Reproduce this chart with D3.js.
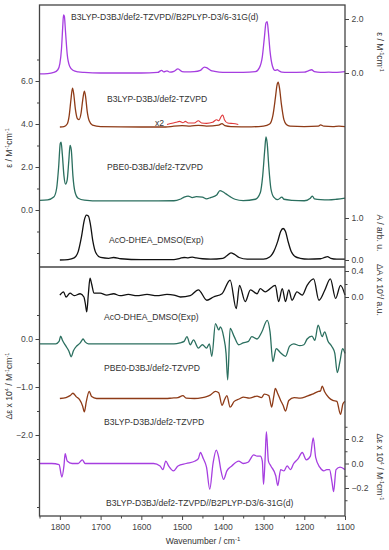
<html>
<head>
<style>
body{margin:0;background:#fff;}
svg{font-family:Arial,"Liberation Sans",sans-serif;}
.lbl{font-size:8.6px;fill:#333;}
.tick text{font-size:8.6px;fill:#444;}
.tick line{stroke:#444;}
</style>
<script src="https://d3js.org/d3.v7.min.js"></script>
</head>
<body>
<svg id="chart" width="389" height="550"></svg>
<script>
// top panel: absorption spectra
const wnTopPurple = [1850,1830,1815,1805,1800,1796,1793,1791,1789,1786,1782,1776,1768,1755,1740,1700,1600,1560,1550,1545,1537,1530,1520,1510,1500,1490,1470,1455,1445,1440,1430,1420,1400,1350,1320,1310,1303,1298,1294,1291,1288,1284,1278,1272,1266,1262,1255,1240,1200,1190,1182,1175,1160,1140,1120,1100];
const epsTopPurple = [-0.03,-0.02,0.02,0.12,0.35,0.9,1.7,2.15,2.1,1.5,0.7,0.25,0.1,0.04,0.02,0,0,0.02,0.1,0.04,0.08,0.03,0.06,0.15,0.05,0.04,0.05,0.1,0.22,0.2,0.1,0.06,0.02,0.02,0.05,0.2,0.6,1.3,1.85,1.9,1.5,0.8,0.25,0.1,0.12,0.08,0.03,0.02,0.03,0.08,0.12,0.05,0.02,0.03,0.02,0.05];

const wnTopBrown = [1800,1790,1782,1777,1773,1769,1766,1762,1757,1753,1748,1744,1740,1737,1733,1728,1720,1700,1600,1540,1520,1500,1480,1460,1440,1410,1402,1395,1380,1330,1300,1285,1277,1271,1267,1264,1261,1256,1250,1244,1235,1200,1165,1160,1152,1130,1115,1100];
const epsTopBrown = [3.86,3.88,4.0,4.4,5.1,5.67,5.4,4.7,4.25,4.2,4.5,5.1,5.53,5.3,4.6,4.15,3.95,3.88,3.86,3.86,3.9,3.92,3.9,3.94,3.9,3.95,4.02,3.92,3.88,3.87,3.9,4.0,4.4,5.2,5.8,5.95,5.7,4.9,4.2,3.98,3.9,3.88,3.9,3.96,3.9,3.88,3.9,3.88];

const wnTopX2 = [1537,1528,1515,1506,1498,1492,1485,1470,1460,1452,1440,1425,1415,1410,1404,1400,1396,1388,1375,1362];
const epsTopX2 = [3.98,4.02,4.08,4.12,4.06,4.12,4.05,4.05,4.15,4.05,4.03,4.08,4.2,4.15,4.35,4.42,4.2,4.05,4.02,3.98];

const wnTopTeal = [1850,1830,1815,1808,1803,1799,1797,1794,1790,1786,1782,1778,1775,1772,1768,1763,1755,1740,1700,1600,1520,1505,1495,1485,1475,1465,1450,1440,1430,1415,1407,1400,1392,1382,1370,1350,1320,1308,1302,1297,1294,1291,1287,1282,1275,1265,1255,1250,1230,1200,1185,1180,1175,1160,1140,1120,1100];
const epsTopTeal = [0.45,0.47,0.6,1.0,2.0,3.1,3.16,2.6,1.6,1.2,1.4,2.3,3.0,2.8,1.6,0.85,0.55,0.46,0.42,0.42,0.43,0.5,0.6,0.65,0.58,0.62,0.6,0.52,0.58,0.7,0.9,0.85,0.75,0.62,0.5,0.44,0.5,0.8,1.6,2.8,3.4,3.1,2.0,1.0,0.6,0.48,0.6,0.5,0.45,0.43,0.55,0.65,0.52,0.48,0.47,0.5,0.55];

const wnTopExp = [1800,1780,1765,1755,1747,1740,1735,1730,1725,1719,1712,1700,1680,1668,1650,1600,1520,1505,1495,1485,1475,1465,1450,1430,1400,1390,1380,1372,1360,1340,1300,1285,1275,1265,1258,1252,1246,1240,1232,1222,1210,1190,1160,1150,1143,1135,1120,1100];
const absTopExp = [0,0.01,0.05,0.2,0.55,0.95,1.07,1.05,0.85,0.45,0.18,0.06,0.04,0.06,0.03,0.01,0.01,0.04,0.06,0.05,0.07,0.05,0.03,0.02,0.04,0.1,0.17,0.14,0.06,0.02,0.02,0.07,0.2,0.45,0.68,0.75,0.68,0.45,0.2,0.08,0.04,0.02,0.03,0.06,0.08,0.04,0.02,0.02];

// bottom panel: difference spectra
const wnBotExp = [1800,1791,1785,1775,1765,1750,1741,1737,1734,1730,1726,1722,1716,1701,1685,1668,1652,1632,1611,1586,1562,1537,1520,1504,1480,1460,1439,1423,1402,1382,1367,1359,1345,1332,1316,1308,1296,1271,1263,1254,1246,1238,1230,1218,1205,1193,1177,1164,1150,1136,1123,1111,1100];
const dABotExp = [0.03,0.08,0,0.06,0.02,0.05,0,-0.12,-0.23,0.05,0.29,0.2,0.06,0.06,0.03,0.05,0.02,0.04,0.02,0.04,0.02,0.04,0.03,0,0.02,0.11,-0.05,0,0.05,0.26,-0.18,0.18,-0.07,0.11,0.05,0.13,0.08,0.18,-0.07,0.13,-0.07,0.11,-0.05,0.08,0.03,0.18,0.28,-0.05,0.1,0.28,-0.02,0.18,0.03];

const wnBotTeal = [1850,1810,1802,1798,1794,1785,1778,1772,1767,1758,1750,1746,1743,1738,1730,1700,1600,1540,1520,1505,1495,1488,1480,1472,1460,1450,1440,1433,1427,1418,1410,1406,1398,1392,1388,1382,1372,1361,1350,1337,1329,1316,1304,1291,1284,1277,1269,1259,1246,1236,1226,1211,1201,1193,1181,1174,1166,1156,1150,1142,1132,1125,1119,1112,1106,1100];
const deBotTeal = [-0.1,-0.1,-0.05,0.06,-0.02,-0.15,-0.25,-0.37,-0.25,-0.14,-0.08,-0.03,0,-0.06,-0.1,-0.1,-0.1,-0.1,-0.1,-0.08,-0.05,0.05,-0.12,-0.02,-0.19,-0.12,-0.19,-0.1,-0.36,0.32,0.19,0.25,0.05,-0.3,-0.85,0.22,0.05,-0.12,-0.08,-0.05,0.05,0,0.15,0.39,0.15,-0.47,-0.2,-0.28,-0.36,-0.15,-0.1,-0.14,-0.12,0,0.06,-0.03,0.29,0.05,0.15,-0.04,-0.16,-0.3,-0.7,-0.45,-0.2,-0.3];

const wnBotBrown = [1800,1785,1775,1768,1760,1752,1744,1740,1735,1728,1722,1710,1600,1540,1525,1510,1498,1490,1470,1450,1440,1431,1418,1410,1402,1395,1390,1382,1372,1360,1349,1335,1316,1305,1298,1287,1280,1275,1271,1266,1258,1252,1246,1238,1225,1210,1193,1180,1168,1160,1156,1150,1140,1130,1120,1111,1105,1100];
const deBotBrown = [-1.24,-1.22,-1.18,-1.13,-1.2,-1.26,-1.4,-1.52,-1.3,-1.09,-1.2,-1.24,-1.24,-1.24,-1.23,-1.22,-1.18,-1.23,-1.24,-1.22,-1.2,-1.17,-1.09,-1.12,-1.38,-1.25,-1.18,-1.42,-1.3,-1.25,-1.21,-1.23,-1.19,-1.22,-1.15,-1.18,-1.42,-1.2,-1.03,-1.12,-1.28,-1.38,-1.5,-1.28,-1.22,-1.23,-1.19,-1.15,-1.1,-1.08,-0.98,-1.1,-1.22,-1.28,-1.3,-1.57,-1.35,-1.3];

const wnBotPurple = [1850,1820,1802,1795,1790,1787,1782,1770,1755,1745,1738,1720,1600,1570,1554,1547,1540,1533,1521,1510,1490,1468,1460,1455,1448,1440,1432,1424,1416,1410,1405,1398,1390,1378,1361,1350,1338,1324,1316,1308,1303,1300,1296,1293,1288,1282,1270,1265,1258,1250,1242,1234,1226,1215,1205,1195,1185,1178,1172,1162,1152,1145,1138,1132,1128,1122,1112,1100];
const deBotPurple = [0,0,-0.01,-0.11,-0.02,0.08,0.02,0,0,0.03,0,0,0,0,-0.02,-0.05,0.02,-0.02,-0.06,-0.02,0,0.02,0.04,0.09,0.04,-0.03,-0.21,0,0.11,0.05,-0.05,-0.13,-0.06,-0.02,0.02,0,0.01,0.07,0.06,0.06,0.02,-0.17,0.05,0.26,0.02,-0.02,-0.1,-0.18,-0.05,-0.06,-0.02,-0.05,0,0.04,0.09,0.03,0.06,0.21,0.05,-0.03,-0.06,-0.05,-0.05,-0.15,-0.23,-0.05,-0.03,-0.05];

const xTicks = [1800,1700,1600,1500,1400,1300,1200,1100];

const svg = d3.select("#chart");
const pLeft = 39.5, pRight = 345, pTop = 5, pMid = 267, pBottom = 516;

const x = d3.scaleLinear().domain([1850,1100]).range([pLeft,pRight]);
// top panel scales
const yEps = d3.scaleLinear().domain([0,6]).range([210,81]);
const yEpsR = d3.scaleLinear().domain([0,2]).range([73,19]);
const yAbs = d3.scaleLinear().domain([0,1]).range([260,218]);
// bottom panel scales
const yDe = d3.scaleLinear().domain([0,-2]).range([339,435]);
const yDA = d3.scaleLinear().domain([0,0.4]).range([297,271]);
const yDeR = d3.scaleLinear().domain([-0.2,0.2]).range([488,439]);

const fmt = d3.format(".1f");

function trace(wn, vals, y, color, w) {
  const pts = wn.map((d,i) => [d, vals[i]]);
  svg.append("path")
    .datum(pts)
    .attr("fill","none")
    .attr("stroke",color)
    .attr("stroke-width",w || 1.3)
    .attr("stroke-linejoin","round")
    .attr("d", d3.line().x(d => x(d[0])).y(d => y(d[1])).curve(d3.curveMonotoneX));
}

trace(wnTopPurple, epsTopPurple, yEpsR, "#a63ee0");
trace(wnTopBrown, epsTopBrown, yEps, "#8e3b17");
trace(wnTopX2, epsTopX2, yEps, "#e0383a", 1.1);
trace(wnTopTeal, epsTopTeal, yEps, "#2b6f5f");
trace(wnTopExp, absTopExp, yAbs, "#111");

trace(wnBotExp, dABotExp, yDA, "#111");
trace(wnBotTeal, deBotTeal, yDe, "#2b6f5f");
trace(wnBotBrown, deBotBrown, yDe, "#8e3b17");
trace(wnBotPurple, deBotPurple, yDeR, "#a63ee0");

// axes
function axis(gen, tx, ty, vals, size, labels) {
  const g = svg.append("g").attr("transform", "translate(" + tx + "," + ty + ")")
    .call(gen.tickValues(vals).tickSize(size).tickPadding(2.5).tickFormat(labels ? fmt : ""));
  g.select(".domain").remove();
  return g;
}
axis(d3.axisLeft(yEps), pLeft, 0, [0,2,4,6], 4, true);
axis(d3.axisLeft(yEps), pLeft, 0, [-2,-1,1,3,5,7], 2.5, false);
axis(d3.axisLeft(yDe), pLeft, 0, [0,-1,-2], 4, true);
axis(d3.axisLeft(yDe), pLeft, 0, [0.5,-0.5,-1.5,-2.5,-3.5], 2.5, false);

axis(d3.axisRight(yEpsR), pRight, 0, [0,2], 4, true);
axis(d3.axisRight(yEpsR), pRight, 0, [1], 2.5, false);
axis(d3.axisRight(yAbs), pRight, 0, [0,1], 4, true);
axis(d3.axisRight(yAbs), pRight, 0, [0.5], 2.5, false);
axis(d3.axisRight(yDA), pRight, 0, [0,0.4], 4, true);
axis(d3.axisRight(yDA), pRight, 0, [0.2,-0.4], 2.5, false);
axis(d3.axisRight(yDeR), pRight, 0, [-0.2,0,0.2], 4, true);
axis(d3.axisRight(yDeR), pRight, 0, [-0.3,-0.1,0.1,0.3], 2.5, false);

svg.append("g").attr("transform", "translate(0," + pBottom + ")")
  .call(d3.axisBottom(x).tickValues(xTicks).tickSize(4).tickPadding(4).tickFormat(d3.format("d")))
  .select(".domain").remove();
axis(d3.axisBottom(x), 0, pBottom, [1850,1750,1650,1550,1450,1350,1250,1150], 2.5, false);

// frame
svg.append("rect").attr("x",pLeft).attr("y",pTop).attr("width",pRight-pLeft).attr("height",pBottom-pTop)
  .attr("fill","none").attr("stroke","#444").attr("stroke-width",1.3);
svg.append("line").attr("x1",pLeft).attr("x2",pRight).attr("y1",pMid).attr("y2",pMid)
  .attr("stroke","#444").attr("stroke-width",1.3);

// trace labels
const labels = [
  ["B3LYP-D3BJ/def2-TZVPD//B2PLYP-D3/6-31G(d)", 71, 20],
  ["B3LYP-D3BJ/def2-TZVPD", 107, 102],
  ["PBE0-D3BJ/def2-TZVPD", 107, 170],
  ["AcO-DHEA_DMSO(Exp)", 109, 243],
  ["AcO-DHEA_DMSO(Exp)", 104, 320],
  ["PBE0-D3BJ/def2-TZVPD", 104, 371],
  ["B3LYP-D3BJ/def2-TZVPD", 104, 425],
  ["B3LYP-D3BJ/def2-TZVPD//B2PLYP-D3/6-31G(d)", 106, 506]
];
labels.forEach(l => svg.append("text").attr("class","lbl").attr("x",l[1]).attr("y",l[2]).text(l[0]));
svg.append("text").attr("class","lbl").attr("x",155).attr("y",126).attr("font-size","8px").text("x2");

// axis titles
function vtitle(txt, cx, cy, rot) {
  const t = svg.append("text").attr("class","lbl").attr("font-size","8px")
    .attr("text-anchor","middle")
    .attr("transform","translate(" + cx + "," + cy + ") rotate(" + rot + ")");
  txt.forEach(p => {
    const s = t.append("tspan").text(p[0]);
    if (p[1]) s.attr("baseline-shift","super").attr("font-size","5.5px");
  });
}
vtitle([["ε / M"],["-1",1],["cm"],["-1",1]], 12, 148, -90);
vtitle([["Δε x 10"],["4",1],[" / M"],["-1",1],["cm"],["-1",1]], 12, 386, -90);
vtitle([["ε / M"],["-1",1],["cm"],["-1",1]], 377, 52, 90);
vtitle([["A / arb. u."]], 377, 233, 90);
vtitle([["ΔA x 10"],["4",1],["/ a.u."]], 377, 290, 90);
vtitle([["Δε x 10"],["4",1],[" / M"],["-1",1],["cm"],["-1",1]], 377, 467, 90);

const xt = svg.append("text").attr("class","lbl").attr("x",203).attr("y",544).attr("text-anchor","middle").attr("font-size","9px");
xt.append("tspan").text("Wavenumber / cm");
xt.append("tspan").attr("baseline-shift","super").attr("font-size","6px").text("-1");
</script>
</body>
</html>
